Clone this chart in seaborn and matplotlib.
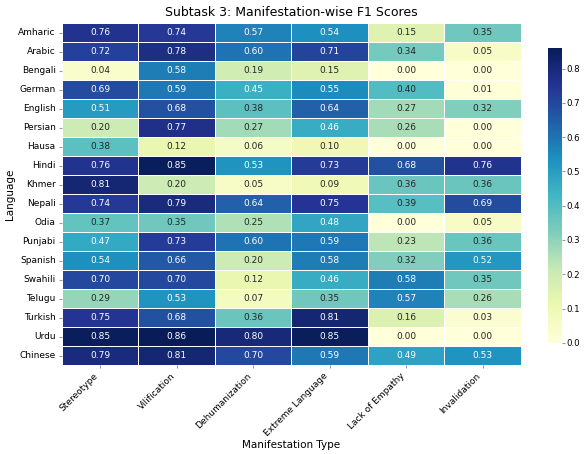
import numpy as np
import pandas as pd
import matplotlib
matplotlib.use('Agg')
import matplotlib.pyplot as plt
import seaborn as sns

# ── Data ───────────────────────────────────────────────────
languages = ['Amharic', 'Arabic', 'Bengali', 'German', 'English', 'Persian',
             'Hausa', 'Hindi', 'Khmer', 'Nepali', 'Odia', 'Punjabi',
             'Spanish', 'Swahili', 'Telugu', 'Turkish', 'Urdu', 'Chinese']
manifestations = ['Stereotype', 'Vilification', 'Dehumanization',
                  'Extreme Language', 'Lack of Empathy', 'Invalidation']

stereotype       = [0.76, 0.72, 0.04, 0.69, 0.51, 0.20, 0.38, 0.76, 0.81,
                    0.74, 0.37, 0.47, 0.54, 0.70, 0.29, 0.75, 0.85, 0.79]
vilification     = [0.74, 0.78, 0.58, 0.59, 0.68, 0.77, 0.12, 0.85, 0.20,
                    0.79, 0.35, 0.73, 0.66, 0.70, 0.53, 0.68, 0.86, 0.81]
dehumanization   = [0.57, 0.60, 0.19, 0.45, 0.38, 0.27, 0.06, 0.53, 0.05,
                    0.64, 0.25, 0.60, 0.20, 0.12, 0.07, 0.36, 0.80, 0.70]
extreme_language = [0.54, 0.71, 0.15, 0.55, 0.64, 0.46, 0.10, 0.73, 0.09,
                    0.75, 0.48, 0.59, 0.58, 0.46, 0.35, 0.81, 0.85, 0.59]
lack_of_empathy  = [0.15, 0.34, 0.00, 0.40, 0.27, 0.26, 0.00, 0.68, 0.36,
                    0.39, 0.00, 0.23, 0.32, 0.58, 0.57, 0.16, 0.00, 0.49]
invalidation     = [0.35, 0.05, 0.00, 0.01, 0.32, 0.00, 0.00, 0.76, 0.36,
                    0.69, 0.05, 0.36, 0.52, 0.35, 0.26, 0.03, 0.00, 0.53]

df = pd.DataFrame({
    'Stereotype': stereotype,
    'Vilification': vilification,
    'Dehumanization': dehumanization,
    'Extreme Language': extreme_language,
    'Lack of Empathy': lack_of_empathy,
    'Invalidation': invalidation,
}, index=languages)[manifestations]

# ── Plot ───────────────────────────────────────────────────
fig = plt.figure(figsize=(5.84, 4.54), dpi=100)
ax = fig.add_axes([0.106, 0.196, 0.786, 0.753])
cax = fig.add_axes([0.939, 0.245, 0.023, 0.649])

sns.heatmap(df, annot=True, fmt='.2f', cmap='YlGnBu', linewidths=0.5,
            linecolor='white', ax=ax, cbar_ax=cax,
            annot_kws={'fontsize': 6.5})

ax.set_title('Subtask 3: Manifestation-wise F1 Scores', fontsize=9, pad=5)
ax.set_xlabel('Manifestation Type', fontsize=7.5, labelpad=1)
ax.set_ylabel('Language', fontsize=7.5, labelpad=2)
ax.set_xticklabels(ax.get_xticklabels(), rotation=45, ha='right', fontsize=6.5)
ax.set_yticklabels(ax.get_yticklabels(), rotation=0, fontsize=6.5)
ax.tick_params(length=2.5, pad=2, color='#999999')
cax.tick_params(labelsize=6.2, length=2, pad=1.5, color='#999999')
cax.set_yticks([0.0, 0.1, 0.2, 0.3, 0.4, 0.5, 0.6, 0.7, 0.8])

plt.savefig('out.png', dpi=100)
